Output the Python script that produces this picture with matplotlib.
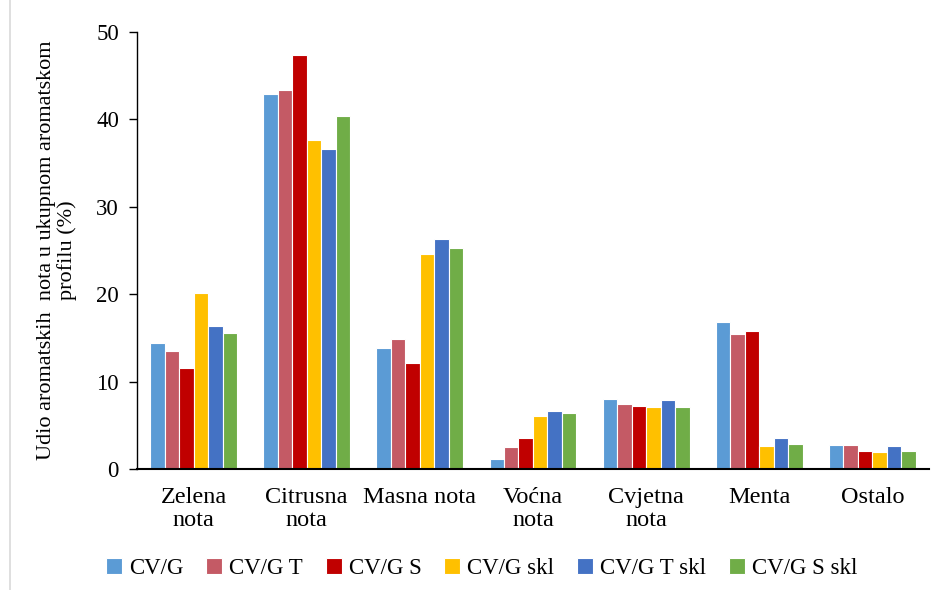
import matplotlib
matplotlib.use("Agg")
import matplotlib.pyplot as plt
from matplotlib.lines import Line2D
import numpy as np

categories = ["Zelena\nnota", "Citrusna\nnota", "Masna nota", "Voćna\nnota",
              "Cvjetna\nnota", "Menta", "Ostalo"]
series_names = ["CV/G", "CV/G T", "CV/G S", "CV/G skl", "CV/G T skl", "CV/G S skl"]
cvg       = [14.4, 42.9, 13.8, 1.2, 8.0, 16.8, 2.7]
cvg_t     = [13.5, 43.4, 14.9, 2.5, 7.4, 15.5, 2.7]
cvg_s     = [11.6, 47.4, 12.1, 3.6, 7.2, 15.8, 2.1]
cvg_skl   = [20.1, 37.6, 24.6, 6.1, 7.1, 2.6, 1.9]
cvg_t_skl = [16.4, 36.6, 26.3, 6.6, 7.9, 3.6, 2.6]
cvg_s_skl = [15.6, 40.4, 25.3, 6.4, 7.1, 2.9, 2.1]
series = [cvg, cvg_t, cvg_s, cvg_skl, cvg_t_skl, cvg_s_skl]
colors = ["#5B9BD5", "#C45A65", "#C00000", "#FFC000", "#4472C4", "#70AD47"]

plt.rcParams["font.family"] = ["Liberation Serif", "DejaVu Serif"]

fig = plt.figure(figsize=(9.35, 5.9), dpi=100)
ax = fig.add_axes([0.1465, 0.2051, 0.847, 0.7407])

x = np.arange(len(categories))
w = 0.128
for i, (vals, name, c) in enumerate(zip(series, series_names, colors)):
    ax.bar(x + (i - 2.5) * w, vals, width=w, color=c, edgecolor="white",
           linewidth=0.8, label=name, zorder=2)

ax.set_xlim(-0.5, len(categories) - 0.5)
ax.set_ylim(0, 50)
ax.set_yticks([0, 10, 20, 30, 40, 50])
ax.set_xticks(x)
ax.set_xticklabels(categories, fontsize=17.5, linespacing=1.15)
ax.tick_params(axis="y", labelsize=16.5, direction="out", length=6, width=1, pad=7)
ax.tick_params(axis="x", length=0, pad=13)
for s in ["top", "right"]:
    ax.spines[s].set_visible(False)
ax.spines["left"].set_linewidth(1.0)
ax.spines["bottom"].set_linewidth(1.5)

ax.set_ylabel("Udio aromatskih  nota u ukupnom aromatskom\nprofilu (%)",
              fontsize=16, linespacing=1.05, labelpad=14)

fig.legend(loc="center", bbox_to_anchor=(0.515, 0.037), ncol=6, frameon=False,
           fontsize=16.5, handlelength=0.7, handleheight=0.7,
           handletextpad=0.3, columnspacing=1.0)

fig.add_artist(Line2D([0.011, 0.011], [0, 1], transform=fig.transFigure,
                      color="#D9D9D9", linewidth=1.2))

fig.savefig("out.png", dpi=100)
